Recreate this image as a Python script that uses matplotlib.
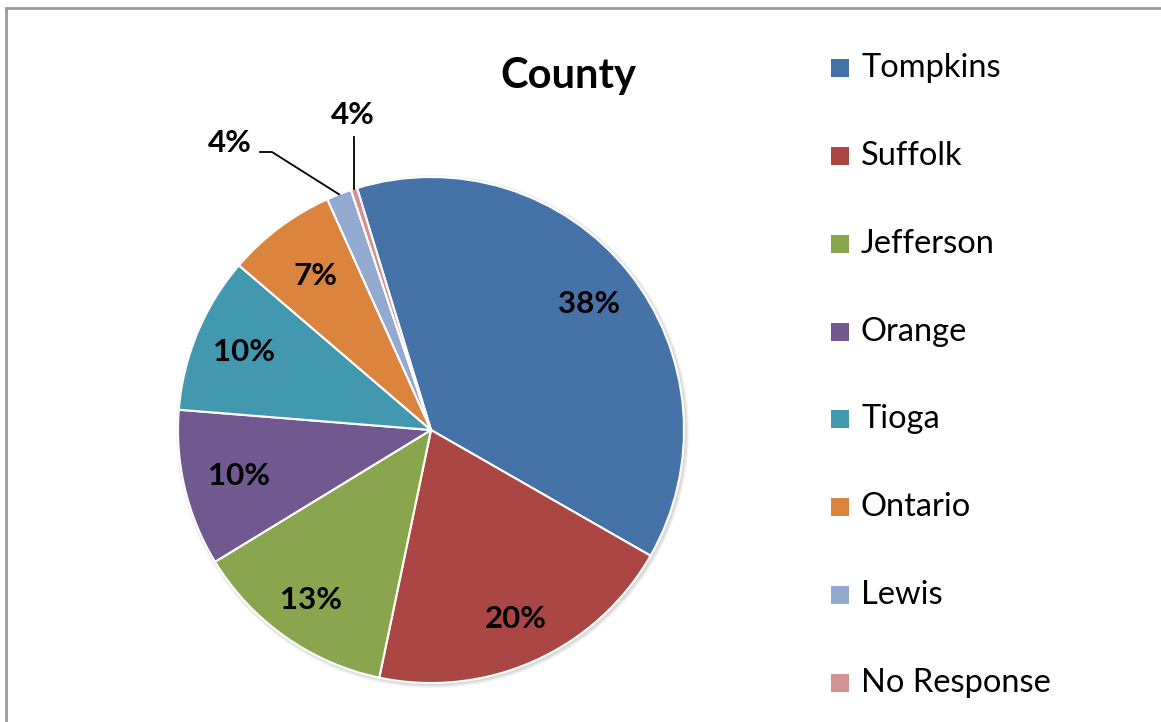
import matplotlib
matplotlib.use("Agg")
import matplotlib.pyplot as plt
from matplotlib.patches import Rectangle, Circle
import numpy as np

plt.rcParams['font.family'] = ['Lato', 'DejaVu Sans']

# County shares (percent of respondents)
counties = ["Tompkins", "Suffolk", "Jefferson", "Orange", "Tioga", "Ontario", "Lewis", "No Response"]
shares = [38, 20, 13, 10, 10, 7, 1.6, 0.4]
pct_labels = ["38%", "20%", "13%", "10%", "10%", "7%", "4%", "4%"]
colors = ["#4572A7", "#AA4643", "#89A54E", "#71588F", "#4198AF", "#DB843D", "#93A9CF", "#D19392"]

W, H = 1161, 722
fig = plt.figure(figsize=(W / 100, H / 100), dpi=100)
ax = fig.add_axes([0, 0, 1, 1])
ax.set_xlim(0, W)
ax.set_ylim(0, H)
ax.set_aspect("equal")
ax.axis("off")

cx, cy, R = 431, H - 430, 253

# soft drop shadow under the pie
for i, a in enumerate([0.05, 0.05, 0.05]):
    ax.add_patch(Circle((cx + 1.5, cy - 1.5), R + 1 + i * 1.2, color="black", alpha=a, lw=0, zorder=1))

wedges, _ = ax.pie(shares, colors=colors, startangle=107, counterclock=False,
                   center=(cx, cy), radius=R, frame=True,
                   wedgeprops=dict(edgecolor="white", linewidth=1.5))
for w in wedges:
    w.set_zorder(2)
ax.set_xlim(0, W)
ax.set_ylim(0, H)
ax.axis("off")

LABEL_FS = 22.5

# inside labels for the larger slices
label_r = [0.80, 0.82, 0.82, 0.78, 0.80, 0.76]
for w, txt, lr in zip(wedges[:6], pct_labels[:6], label_r):
    mid = np.deg2rad((w.theta1 + w.theta2) / 2)
    ax.text(cx + lr * R * np.cos(mid), cy + lr * R * np.sin(mid), txt,
            ha="center", va="center", fontsize=LABEL_FS, fontweight="bold", zorder=5)

# outside labels with leader lines for the two thin slices
def edge_point(w):
    mid = np.deg2rad((w.theta1 + w.theta2) / 2)
    return cx + R * np.cos(mid), cy + R * np.sin(mid)

ex, ey = edge_point(wedges[6])
ax.plot([260, 272, ex], [H - 152, H - 152, ey], color="black", lw=1.3, zorder=4)
ax.text(230, H - 143, pct_labels[6], ha="center", va="center", fontsize=LABEL_FS, fontweight="bold")

ex, ey = edge_point(wedges[7])
ax.plot([ex, ex], [H - 137, ey], color="black", lw=1.3, zorder=4)
ax.text(353, H - 115, pct_labels[7], ha="center", va="center", fontsize=LABEL_FS, fontweight="bold")

# title
ax.text(568, H - 76, "County", ha="center", va="center", fontsize=30, fontweight="bold")

# legend
row0, step = 68, 87.86
for i, (name, w) in enumerate(zip(counties, wedges)):
    yc = H - (row0 + i * step)
    ax.add_patch(Rectangle((831, yc - 9), 18, 18, facecolor=w.get_facecolor(), edgecolor="none"))
    ax.text(861, yc, name, ha="left", va="center", fontsize=23.5)

# chart frame
ax.add_patch(Rectangle((6, -20), W + 20, H - 8 + 20, fill=False, edgecolor="#9a9a9a", lw=2, zorder=0))

fig.savefig("out.png", dpi=100)
